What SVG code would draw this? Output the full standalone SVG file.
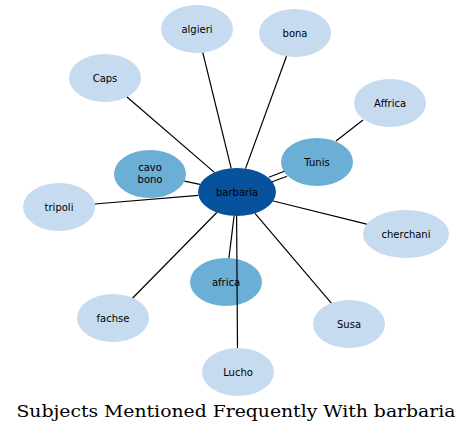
<svg xmlns="http://www.w3.org/2000/svg" width="472" height="433" viewBox="0 0 472 433">
<style>
.n text{font-family:"DejaVu Sans",sans-serif;font-size:10px;text-anchor:middle;fill:#000}
.l{fill:#c6dbef}
.m{fill:#6baed6}
.d{fill:#08519c}
#edges line{stroke:#000;stroke-width:1.2}
.title{font-family:"DejaVu Serif",serif;font-size:17px;text-anchor:middle;fill:#000}
</style>
<rect width="472" height="433" fill="#fff"/>
<g id="n-algieri" class="n"><ellipse class="l" cx="197" cy="29" rx="36" ry="24"/><text x="197" y="32.5">algieri</text></g>
<g id="n-bona" class="n"><ellipse class="l" cx="295" cy="33" rx="36" ry="24"/><text x="295" y="36.5">bona</text></g>
<g id="n-caps" class="n"><ellipse class="l" cx="105" cy="78" rx="36" ry="24"/><text x="105" y="81.5">Caps</text></g>
<g id="n-affrica" class="n"><ellipse class="l" cx="390" cy="103" rx="36" ry="24"/><text x="390" y="106.5">Affrica</text></g>
<g id="n-tripoli" class="n"><ellipse class="l" cx="59" cy="207" rx="36" ry="24"/><text x="59" y="210.5">tripoli</text></g>
<g id="n-cherchani" class="n"><ellipse class="l" cx="406" cy="234" rx="43" ry="24"/><text x="406" y="237.5">cherchani</text></g>
<g id="n-fachse" class="n"><ellipse class="l" cx="113" cy="318" rx="36" ry="24"/><text x="113" y="321.5">fachse</text></g>
<g id="n-susa" class="n"><ellipse class="l" cx="349" cy="324" rx="36" ry="24"/><text x="349" y="327.5">Susa</text></g>
<g id="n-lucho" class="n"><ellipse class="l" cx="238" cy="372" rx="36" ry="24"/><text x="238" y="375.5">Lucho</text></g>
<g id="n-cavobono" class="n"><ellipse class="m" cx="150" cy="174" rx="36" ry="24"/><text x="150" y="171">cavo</text><text x="150" y="183">bono</text></g>
<g id="n-tunis" class="n"><ellipse class="m" cx="317" cy="162" rx="36" ry="24"/><text x="317" y="165.5">Tunis</text></g>
<g id="n-africa" class="n"><ellipse class="m" cx="226" cy="282" rx="36" ry="24"/><text x="226" y="285.5">africa</text></g>
<g id="n-barbaria" class="n"><ellipse class="d" cx="237" cy="192" rx="39" ry="24"/><text x="237" y="195.5">barbaria</text></g>
<g id="edges">
<line x1="231.2" y1="168.3" x2="202.8" y2="52.7"/>
<line x1="245.5" y1="168.6" x2="286.5" y2="56.3"/>
<line x1="214.4" y1="172.4" x2="127" y2="97"/>
<line x1="268.8" y1="177.2" x2="284.5" y2="171.3"/>
<line x1="271.6" y1="182" x2="287" y2="176.2"/>
<line x1="336" y1="141" x2="363" y2="120"/>
<line x1="200" y1="184.3" x2="184.4" y2="181.1"/>
<line x1="198.3" y1="195.3" x2="94.7" y2="204"/>
<line x1="273.2" y1="201" x2="366.7" y2="224.2"/>
<line x1="216.8" y1="212.5" x2="132.7" y2="298"/>
<line x1="255" y1="213.3" x2="331.3" y2="303.1"/>
<line x1="234.1" y1="215.9" x2="228.9" y2="258.1"/>
<line x1="236.6" y1="216" x2="237.5" y2="348"/>
</g>
<text class="title" x="236" y="417" textLength="439" lengthAdjust="spacingAndGlyphs">Subjects Mentioned Frequently With barbaria</text>
</svg>
